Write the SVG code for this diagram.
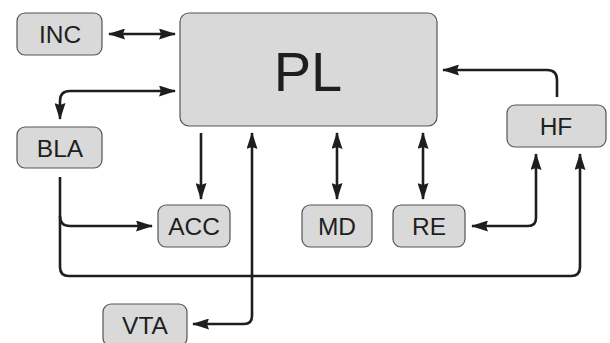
<svg xmlns="http://www.w3.org/2000/svg" width="610" height="343" viewBox="0 0 610 343">
  <style>
    .box { fill: #d9d9d9; stroke: #555; stroke-width: 1.2; }
    .lbl { font-family: "Liberation Sans", Arial, sans-serif; font-size: 24.5px; fill: #1e1e1e; text-anchor: middle; }
    .big { font-size: 56px; }
    .wire { fill: none; stroke: #1e1e1e; stroke-width: 2.6; }
  </style>
  <defs>
    <marker id="ah" viewBox="0 0 17 11" refX="16" refY="5.5" markerWidth="17" markerHeight="11" markerUnits="userSpaceOnUse" orient="auto-start-reverse">
      <path d="M0,0 L17,5.5 L0,11 L2,5.5 Z" fill="#1e1e1e"/>
    </marker>
  </defs>
  <rect width="610" height="343" fill="#fff"/>

  <g id="connectors">
    <!-- INC <-> PL -->
    <path class="wire" d="M109,34 H175" marker-start="url(#ah)" marker-end="url(#ah)"/>
    <!-- PL -> BLA -->
    <path class="wire" d="M175,91 H70 Q60,91 60,101 V119" marker-start="url(#ah)" marker-end="url(#ah)"/>
    <!-- PL -> ACC -->
    <path class="wire" d="M201,133 V199" marker-end="url(#ah)"/>
    <!-- VTA <-> PL -->
    <path class="wire" d="M193,324 H244 Q252,324 252,316 V133" marker-start="url(#ah)" marker-end="url(#ah)"/>
    <!-- PL <-> MD -->
    <path class="wire" d="M337,133 V199" marker-start="url(#ah)" marker-end="url(#ah)"/>
    <!-- PL <-> RE -->
    <path class="wire" d="M423,133 V199" marker-start="url(#ah)" marker-end="url(#ah)"/>
    <!-- HF -> PL -->
    <path class="wire" d="M557,97 V80 Q557,70 547,70 H443" marker-end="url(#ah)"/>
    <!-- RE <-> HF -->
    <path class="wire" d="M472,226 H528 Q536,226 536,218 V154" marker-start="url(#ah)" marker-end="url(#ah)"/>
    <!-- BLA -> HF and BLA -> ACC -->
    <path class="wire" d="M60,177 V267 Q60,276 69,276 H571 Q580,276 580,267 V154" marker-end="url(#ah)"/>
    <path class="wire" d="M60,216 Q60,226 70,226 H152" marker-end="url(#ah)"/>
  </g>

  <g id="PL">
    <rect class="box" x="180" y="13" width="257" height="113" rx="9"/>
    <text class="lbl big" x="308" y="91">PL</text>
  </g>
  <g id="INC">
    <rect class="box" x="17" y="13" width="85" height="42" rx="8"/>
    <text class="lbl" x="60" y="43">INC</text>
  </g>
  <g id="BLA">
    <rect class="box" x="17" y="127" width="85" height="41" rx="8"/>
    <text class="lbl" x="60" y="156.5">BLA</text>
  </g>
  <g id="ACC">
    <rect class="box" x="158" y="205" width="72" height="42" rx="8"/>
    <text class="lbl" x="194" y="235">ACC</text>
  </g>
  <g id="MD">
    <rect class="box" x="302" y="205" width="70" height="42" rx="8"/>
    <text class="lbl" x="337" y="235">MD</text>
  </g>
  <g id="RE">
    <rect class="box" x="393" y="205" width="72" height="42" rx="8"/>
    <text class="lbl" x="429" y="235">RE</text>
  </g>
  <g id="HF">
    <rect class="box" x="507" y="105" width="99" height="42" rx="8"/>
    <text class="lbl" x="556" y="135">HF</text>
  </g>
  <g id="VTA">
    <rect class="box" x="103" y="304" width="84" height="42" rx="8"/>
    <text class="lbl" x="145" y="333.5">VTA</text>
  </g>
</svg>
